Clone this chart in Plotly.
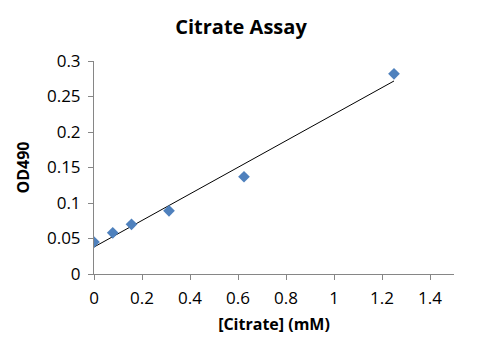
import numpy as np
import plotly.graph_objects as go

citrate_mM = [0, 0.078125, 0.15625, 0.3125, 0.625, 1.25]
od490 = [0.045, 0.058, 0.070, 0.089, 0.137, 0.282]
x_ticks = [0, 0.2, 0.4, 0.6, 0.8, 1, 1.2, 1.4]
y_ticks = [0, 0.05, 0.1, 0.15, 0.2, 0.25, 0.3]

slope, intercept = np.polyfit(citrate_mM, od490, 1)
fit_x = [min(citrate_mM), max(citrate_mM)]
fit_y = [slope * v + intercept for v in fit_x]

FONT = "Open Sans"

fig = go.Figure()
fig.add_trace(go.Scatter(x=fit_x, y=fit_y, mode="lines",
                         line=dict(color="black", width=1), showlegend=False,
                         hoverinfo="skip"))
fig.add_trace(go.Scatter(x=citrate_mM, y=od490, mode="markers",
                         marker=dict(symbol="diamond", size=9, color="#4F81BD",
                                     line=dict(width=0)),
                         showlegend=False))

fig.update_layout(
    width=482, height=354,
    margin=dict(l=94, r=28, t=61, b=80),
    paper_bgcolor="white", plot_bgcolor="white",
    font=dict(family=FONT, color="black", size=17),
    title=dict(text="<b>Citrate Assay</b>", x=0.5, xanchor="center",
               y=1 - 27 / 354, yanchor="middle",
               font=dict(family=FONT, size=20, color="black")),
    xaxis=dict(range=[0, 1.5], tickvals=x_ticks,
               ticktext=[f"{v:g}" for v in x_ticks],
               showgrid=False, zeroline=False, showline=True,
               linecolor="#868686", linewidth=1,
               ticks="outside", ticklen=5, tickcolor="#868686",
               ticklabelstandoff=4,
               tickfont=dict(family=FONT, size=17),
               title=dict(text="<b>[Citrate] (mM)</b>", standoff=10,
                          font=dict(family=FONT, size=16))),
    yaxis=dict(range=[0, 0.3], tickvals=y_ticks,
               ticktext=[f"{v:g}" for v in y_ticks],
               showgrid=False, zeroline=False, showline=True,
               linecolor="#868686", linewidth=1,
               ticks="outside", ticklen=5, tickcolor="#868686",
               ticklabelstandoff=4,
               tickfont=dict(family=FONT, size=17),
               title=dict(text="<b>OD490</b>", standoff=13,
                          font=dict(family=FONT, size=16))),
)

fig.write_html("out.html")
